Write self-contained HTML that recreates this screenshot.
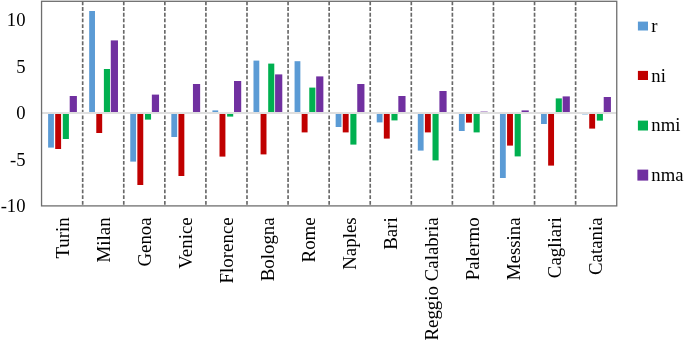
<!DOCTYPE html>
<html><head><meta charset="utf-8"><title>chart</title>
<style>html,body{margin:0;padding:0;background:#fff}svg{display:block}text{font-family:"Liberation Serif",serif;font-size:18.67px;fill:#000}</style></head><body>
<svg width="685" height="341" viewBox="0 0 685 341">
<rect width="685" height="341" fill="#fff"/>
<line x1="82.68" y1="1.40" x2="82.68" y2="206.00" stroke="#686868" stroke-width="1.65" stroke-dasharray="3.85 1.85"/>
<line x1="123.76" y1="1.40" x2="123.76" y2="206.00" stroke="#686868" stroke-width="1.65" stroke-dasharray="3.85 1.85"/>
<line x1="164.84" y1="1.40" x2="164.84" y2="206.00" stroke="#686868" stroke-width="1.65" stroke-dasharray="3.85 1.85"/>
<line x1="205.91" y1="1.40" x2="205.91" y2="206.00" stroke="#686868" stroke-width="1.65" stroke-dasharray="3.85 1.85"/>
<line x1="246.99" y1="1.40" x2="246.99" y2="206.00" stroke="#686868" stroke-width="1.65" stroke-dasharray="3.85 1.85"/>
<line x1="288.07" y1="1.40" x2="288.07" y2="206.00" stroke="#686868" stroke-width="1.65" stroke-dasharray="3.85 1.85"/>
<line x1="329.15" y1="1.40" x2="329.15" y2="206.00" stroke="#686868" stroke-width="1.65" stroke-dasharray="3.85 1.85"/>
<line x1="370.23" y1="1.40" x2="370.23" y2="206.00" stroke="#686868" stroke-width="1.65" stroke-dasharray="3.85 1.85"/>
<line x1="411.31" y1="1.40" x2="411.31" y2="206.00" stroke="#686868" stroke-width="1.65" stroke-dasharray="3.85 1.85"/>
<line x1="452.39" y1="1.40" x2="452.39" y2="206.00" stroke="#686868" stroke-width="1.65" stroke-dasharray="3.85 1.85"/>
<line x1="493.46" y1="1.40" x2="493.46" y2="206.00" stroke="#686868" stroke-width="1.65" stroke-dasharray="3.85 1.85"/>
<line x1="534.54" y1="1.40" x2="534.54" y2="206.00" stroke="#686868" stroke-width="1.65" stroke-dasharray="3.85 1.85"/>
<line x1="575.62" y1="1.40" x2="575.62" y2="206.00" stroke="#686868" stroke-width="1.65" stroke-dasharray="3.85 1.85"/>
<rect x="48.10" y="113.00" width="5.80" height="34.60" fill="#5B9BD5"/>
<rect x="55.20" y="113.00" width="5.90" height="36.00" fill="#C00000"/>
<rect x="62.80" y="113.00" width="6.10" height="26.00" fill="#00B050"/>
<rect x="69.70" y="96.00" width="7.20" height="17.00" fill="#7030A0"/>
<rect x="89.18" y="11.00" width="5.80" height="102.00" fill="#5B9BD5"/>
<rect x="96.28" y="113.00" width="5.90" height="20.00" fill="#C00000"/>
<rect x="103.88" y="69.00" width="6.10" height="44.00" fill="#00B050"/>
<rect x="110.78" y="40.40" width="7.20" height="72.60" fill="#7030A0"/>
<rect x="130.26" y="113.00" width="5.80" height="48.60" fill="#5B9BD5"/>
<rect x="137.36" y="113.00" width="5.90" height="72.00" fill="#C00000"/>
<rect x="144.96" y="113.00" width="6.10" height="6.60" fill="#00B050"/>
<rect x="151.86" y="94.60" width="7.20" height="18.40" fill="#7030A0"/>
<rect x="171.34" y="113.00" width="5.80" height="24.00" fill="#5B9BD5"/>
<rect x="178.44" y="113.00" width="5.90" height="63.00" fill="#C00000"/>
<rect x="192.94" y="84.00" width="7.20" height="29.00" fill="#7030A0"/>
<rect x="212.41" y="110.40" width="5.80" height="2.60" fill="#5B9BD5"/>
<rect x="219.51" y="113.00" width="5.90" height="43.60" fill="#C00000"/>
<rect x="227.11" y="113.00" width="6.10" height="3.60" fill="#00B050"/>
<rect x="234.01" y="81.00" width="7.20" height="32.00" fill="#7030A0"/>
<rect x="253.49" y="60.60" width="5.80" height="52.40" fill="#5B9BD5"/>
<rect x="260.59" y="113.00" width="5.90" height="41.40" fill="#C00000"/>
<rect x="268.19" y="63.60" width="6.10" height="49.40" fill="#00B050"/>
<rect x="275.09" y="74.40" width="7.20" height="38.60" fill="#7030A0"/>
<rect x="294.57" y="61.20" width="5.80" height="51.80" fill="#5B9BD5"/>
<rect x="301.67" y="113.00" width="5.90" height="19.40" fill="#C00000"/>
<rect x="309.27" y="87.60" width="6.10" height="25.40" fill="#00B050"/>
<rect x="316.17" y="76.40" width="7.20" height="36.60" fill="#7030A0"/>
<rect x="335.65" y="113.00" width="5.80" height="14.00" fill="#5B9BD5"/>
<rect x="342.75" y="113.00" width="5.90" height="19.40" fill="#C00000"/>
<rect x="350.35" y="113.00" width="6.10" height="31.60" fill="#00B050"/>
<rect x="357.25" y="84.00" width="7.20" height="29.00" fill="#7030A0"/>
<rect x="376.73" y="113.00" width="5.80" height="9.40" fill="#5B9BD5"/>
<rect x="383.83" y="113.00" width="5.90" height="25.60" fill="#C00000"/>
<rect x="391.43" y="113.00" width="6.10" height="7.40" fill="#00B050"/>
<rect x="398.33" y="96.00" width="7.20" height="17.00" fill="#7030A0"/>
<rect x="417.81" y="113.00" width="5.80" height="37.60" fill="#5B9BD5"/>
<rect x="424.91" y="113.00" width="5.90" height="19.40" fill="#C00000"/>
<rect x="432.51" y="113.00" width="6.10" height="47.40" fill="#00B050"/>
<rect x="439.41" y="91.00" width="7.20" height="22.00" fill="#7030A0"/>
<rect x="458.89" y="113.00" width="5.80" height="18.00" fill="#5B9BD5"/>
<rect x="465.99" y="113.00" width="5.90" height="9.60" fill="#C00000"/>
<rect x="473.59" y="113.00" width="6.10" height="19.40" fill="#00B050"/>
<rect x="480.49" y="111.60" width="7.20" height="1.40" fill="#7030A0"/>
<rect x="499.96" y="113.00" width="5.80" height="65.00" fill="#5B9BD5"/>
<rect x="507.06" y="113.00" width="5.90" height="32.60" fill="#C00000"/>
<rect x="514.66" y="113.00" width="6.10" height="43.40" fill="#00B050"/>
<rect x="521.56" y="110.40" width="7.20" height="2.60" fill="#7030A0"/>
<rect x="541.04" y="113.00" width="5.80" height="11.00" fill="#5B9BD5"/>
<rect x="548.14" y="113.00" width="5.90" height="52.60" fill="#C00000"/>
<rect x="555.74" y="98.40" width="6.10" height="14.60" fill="#00B050"/>
<rect x="562.64" y="96.40" width="7.20" height="16.60" fill="#7030A0"/>
<rect x="582.12" y="113.00" width="5.80" height="1.40" fill="#5B9BD5"/>
<rect x="589.22" y="113.00" width="5.90" height="15.60" fill="#C00000"/>
<rect x="596.82" y="113.00" width="6.10" height="7.60" fill="#00B050"/>
<rect x="603.72" y="97.00" width="7.20" height="16.00" fill="#7030A0"/>
<rect x="41.60" y="112.0" width="575.10" height="2.0" fill="#fff"/>
<line x1="41.60" y1="113.00" x2="616.70" y2="113.00" stroke="#c0c0c0" stroke-width="1.1"/>
<rect x="41.55" y="1.30" width="575.20" height="204.60" fill="none" stroke="#6e6e6e" stroke-width="1.3"/>
<text x="25.5" y="26.20" text-anchor="end">10</text>
<text x="25.5" y="72.70" text-anchor="end">5</text>
<text x="25.5" y="119.20" text-anchor="end">0</text>
<text x="25.5" y="165.70" text-anchor="end">-5</text>
<text x="25.5" y="212.20" text-anchor="end">-10</text>
<text transform="translate(68.84 217.3) rotate(-90)" text-anchor="end" style="font-size:18.9px">Turin</text>
<text transform="translate(109.52 217.3) rotate(-90)" text-anchor="end" style="font-size:18.9px">Milan</text>
<text transform="translate(150.80 217.3) rotate(-90)" text-anchor="end" style="font-size:18.9px">Genoa</text>
<text transform="translate(192.07 217.3) rotate(-90)" text-anchor="end" style="font-size:18.9px">Venice</text>
<text transform="translate(233.15 217.3) rotate(-90)" text-anchor="end" style="font-size:18.9px">Florence</text>
<text transform="translate(274.23 217.3) rotate(-90)" text-anchor="end" style="font-size:18.9px">Bologna</text>
<text transform="translate(315.31 217.3) rotate(-90)" text-anchor="end" style="font-size:18.9px">Rome</text>
<text transform="translate(356.39 217.3) rotate(-90)" text-anchor="end" style="font-size:18.9px">Naples</text>
<text transform="translate(397.47 217.3) rotate(-90)" text-anchor="end" style="font-size:18.9px">Bari</text>
<text transform="translate(437.65 217.3) rotate(-90)" text-anchor="end" style="font-size:18.9px">Reggio Calabria</text>
<text transform="translate(478.73 217.3) rotate(-90)" text-anchor="end" style="font-size:18.9px">Palermo</text>
<text transform="translate(520.00 217.3) rotate(-90)" text-anchor="end" style="font-size:18.9px">Messina</text>
<text transform="translate(560.88 217.3) rotate(-90)" text-anchor="end" style="font-size:18.9px">Cagliari</text>
<text transform="translate(602.36 217.3) rotate(-90)" text-anchor="end" style="font-size:18.9px">Catania</text>
<rect x="637.90" y="21.60" width="10.10" height="8.90" fill="#5B9BD5"/>
<text x="651.3" y="32.00">r</text>
<rect x="637.90" y="70.90" width="10.10" height="9.10" fill="#C00000"/>
<text x="651.3" y="81.60">ni</text>
<rect x="637.90" y="120.60" width="10.10" height="9.90" fill="#00B050"/>
<text x="651.3" y="131.20">nmi</text>
<rect x="637.40" y="169.60" width="10.80" height="11.00" fill="#7030A0"/>
<text x="651.3" y="180.80">nma</text>
</svg></body></html>
